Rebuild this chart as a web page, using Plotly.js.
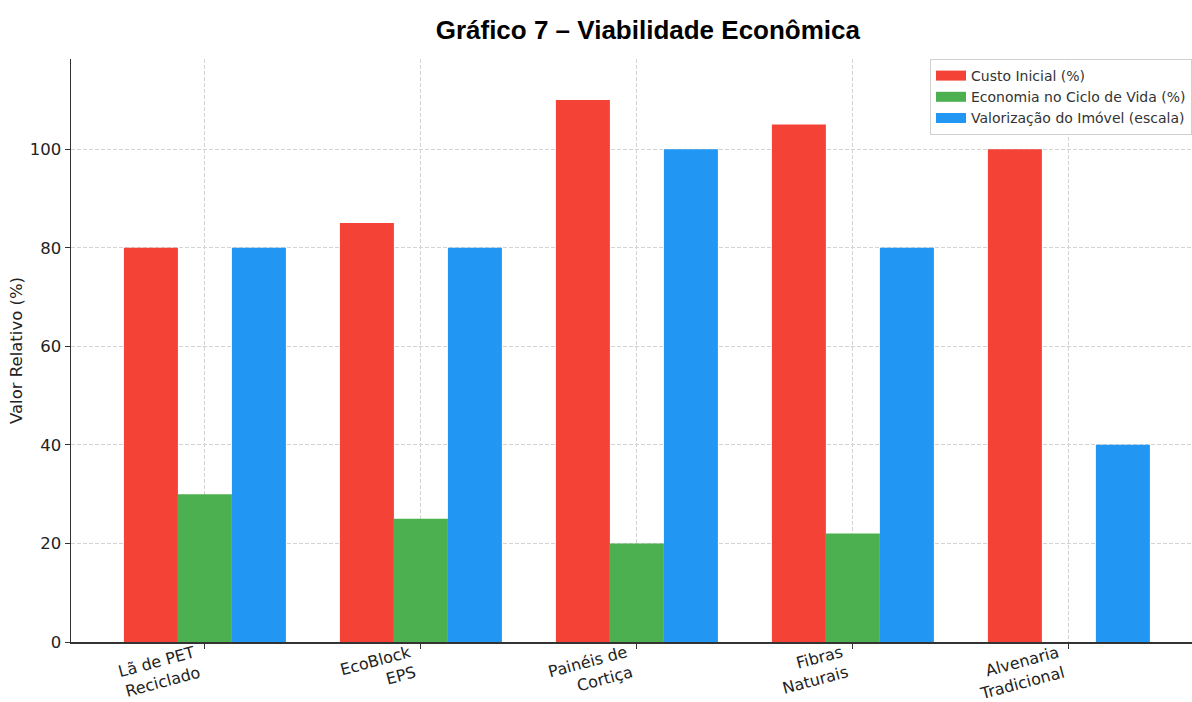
<!DOCTYPE html>
<html>
<head>
<meta charset="utf-8">
<script src="https://cdn.plot.ly/plotly-3.0.1.min.js"></script>
<style>html,body{margin:0;padding:0;background:#fff;}#chart{width:1192px;height:702px;}</style>
</head>
<body>
<div id="chart"></div>
<script>
const categories = ["Lã de PET<br>Reciclado", "EcoBlock<br>EPS", "Painéis de<br>Cortiça", "Fibras<br>Naturais", "Alvenaria<br>Tradicional"];
const seriesNames = ["Custo Inicial (%)", "Economia no Ciclo de Vida (%)", "Valorização do Imóvel (escala)"];
const custoInicial = [80, 85, 110, 105, 100];
const economiaCiclo = [30, 25, 20, 22, null];
const valorizacao = [80, 80, 100, 80, 40];
const colors = ["#F44336", "#4CAF50", "#2196F3"];

const idx = categories.map((_, i) => i);
const series = [custoInicial, economiaCiclo, valorizacao];
const bars = series.map((vals, k) => ({
  type: 'bar',
  name: seriesNames[k],
  x: idx,
  y: vals,
  marker: {color: colors[k], line: {width: 0}},
  showlegend: false,
  hoverinfo: 'skip'
}));
// legend entries drawn as wide patches (like the reference)
const legendItems = seriesNames.map((n, k) => ({
  type: 'scatter', mode: 'lines', name: n,
  x: [null], y: [null],
  line: {color: colors[k], width: 10},
  showlegend: true, hoverinfo: 'skip'
}));

// rotated category labels, right-aligned at each tick
const catLabels = categories.map((c, i) => ({
  x: i, y: 0, xref: 'x', yref: 'y',
  text: c, showarrow: false,
  textangle: -15, align: 'right',
  xanchor: 'right', yanchor: 'top',
  xshift: 0, yshift: 2,
  font: {family: 'DejaVu Sans, sans-serif', size: 16, color: '#222'}
}));

const layout = {
  width: 1192, height: 702,
  paper_bgcolor: '#fff', plot_bgcolor: '#fff',
  margin: {l: 71, r: 0, t: 59, b: 60},
  barmode: 'group', bargap: 0.25, bargroupgap: 0,
  font: {family: 'DejaVu Sans, sans-serif', size: 16, color: '#222'},
  title: {text: '<b>Gráfico 7 – Viabilidade Econômica</b>', font: {family: 'Liberation Sans, Arial, sans-serif', size: 26, color: '#000'}, x: 0.5435, xanchor: 'center', y: 0.958, yanchor: 'middle'},
  xaxis: {
    tickmode: 'array', tickvals: idx, ticktext: categories,
    showticklabels: false,
    range: [-0.62, 4.57],
    ticks: 'outside', ticklen: 5, tickcolor: '#333', tickwidth: 1,
    showline: true, linecolor: '#333', linewidth: 1.5,
    showgrid: true, gridcolor: '#d3d3d3', griddash: '4px,2px', gridwidth: 1,
    zeroline: false
  },
  yaxis: {
    range: [0, 118.3],
    tickvals: [0, 20, 40, 60, 80, 100],
    ticks: 'outside', ticklen: 5, tickcolor: '#333', tickwidth: 1,
    showline: true, linecolor: '#333', linewidth: 1.5,
    showgrid: true, gridcolor: '#d3d3d3', griddash: '4px,2px', gridwidth: 1,
    zeroline: false,
    tickfont: {size: 16.5, color: '#222'},
    title: {text: 'Valor Relativo (%)', font: {size: 16.5, color: '#222'}, standoff: 3}
  },
  annotations: catLabels,
  legend: {
    x: 1.0, xanchor: 'right', y: 1, yanchor: 'top',
    bgcolor: 'rgba(255,255,255,0.9)', bordercolor: '#d0d0d0', borderwidth: 1,
    font: {size: 14, color: '#333'},
    tracegroupgap: 0, itemwidth: 30
  },
  showlegend: true
};

Plotly.newPlot('chart', bars.concat(legendItems), layout, {displayModeBar: false, staticPlot: true});
</script>
</body>
</html>
